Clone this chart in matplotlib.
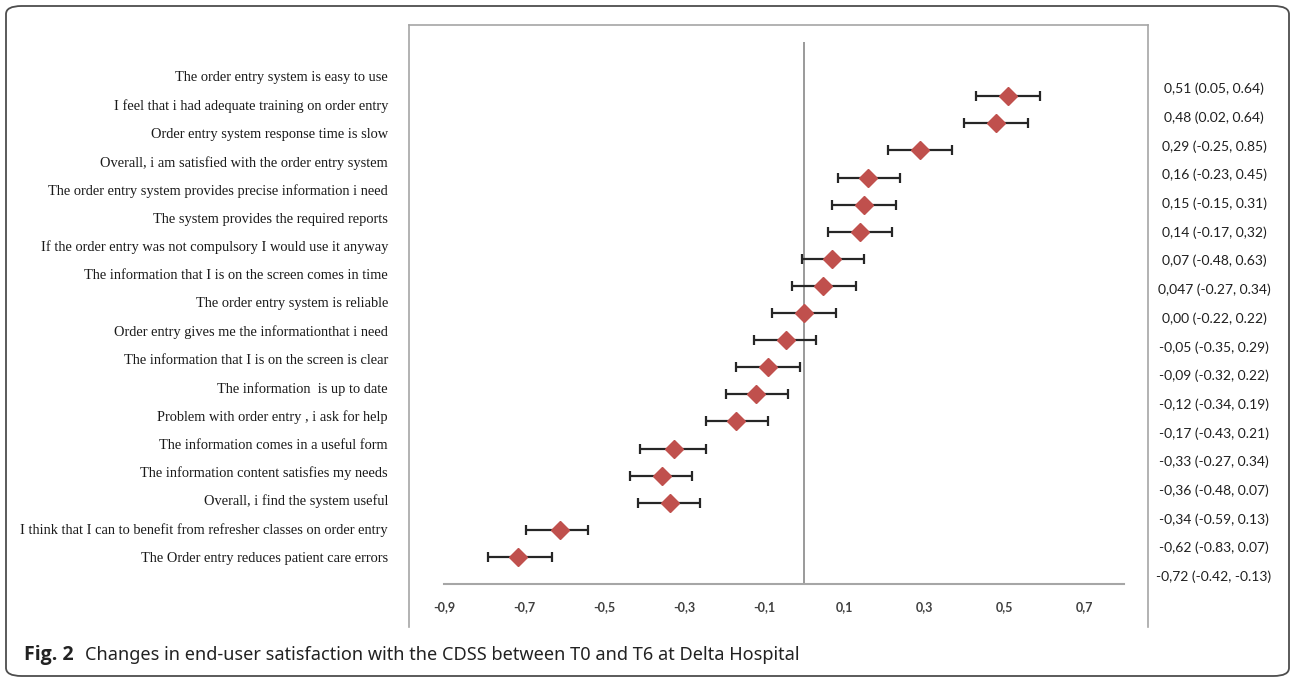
import numpy as np
import matplotlib
matplotlib.use("Agg")
import matplotlib.pyplot as plt
from matplotlib.patches import FancyBboxPatch
from matplotlib.lines import Line2D

#%% data
items = [
    "The order entry system is easy to use",
    "I feel that i had adequate training on order entry",
    "Order entry system response time is slow",
    "Overall, i am satisfied with the order entry system",
    "The order entry system provides precise information i need",
    "The system provides the required reports",
    "If the order entry was not compulsory I would use it anyway",
    "The information that I is on the screen comes in time",
    "The order entry system is reliable",
    "Order entry gives me the informationthat i need",
    "The information that I is on the screen is clear",
    "The information  is up to date",
    "Problem with order entry , i ask for help",
    "The information comes in a useful form",
    "The information content satisfies my needs",
    "Overall, i find the system useful",
    "I think that I can to benefit from refresher classes on order entry",
    "The Order entry reduces patient care errors",
]
estimate = [0.51, 0.48, 0.29, 0.16, 0.15, 0.14, 0.07, 0.047, 0.00, -0.045,
            -0.09, -0.12, -0.17, -0.325, -0.355, -0.335, -0.61, -0.715]
lower = [0.43, 0.40, 0.21, 0.085, 0.07, 0.06, -0.005, -0.03, -0.08, -0.125,
         -0.17, -0.195, -0.245, -0.41, -0.435, -0.415, -0.695, -0.79]
upper = [0.59, 0.56, 0.37, 0.24, 0.23, 0.22, 0.15, 0.13, 0.08, 0.03,
         -0.01, -0.04, -0.09, -0.245, -0.28, -0.26, -0.54, -0.63]
ci_text = [
    "0,51 (0.05, 0.64)", "0,48 (0.02, 0.64)", "0,29 (-0.25, 0.85)",
    "0,16 (-0.23, 0.45)", "0,15 (-0.15, 0.31)", "0,14 (-0.17, 0,32)",
    "0,07 (-0.48, 0.63)", "0,047 (-0.27, 0.34)", "0,00 (-0.22, 0.22)",
    "-0,05 (-0.35, 0.29)", "-0,09 (-0.32, 0.22)", "-0,12 (-0.34, 0.19)",
    "-0,17 (-0.43, 0.21)", "-0,33 (-0.27, 0.34)", "-0,36 (-0.48, 0.07)",
    "-0,34 (-0.59, 0.13)", "-0,62 (-0.83, 0.07)", "-0,72 (-0.42, -0.13)",
]
xticks = [-0.9, -0.7, -0.5, -0.3, -0.1, 0.1, 0.3, 0.5, 0.7]

#%% figure
W, H = 1292, 678
fig = plt.figure(figsize=(W / 100, H / 100), dpi=100)

def fx(px):
    return px / W

def fy(py):
    return 1 - py / H

# outer rounded frame
frame = FancyBboxPatch((fx(6), fy(676)), fx(1283), (676 - 6) / H,
                       boxstyle="round,pad=0,rounding_size=0.012",
                       transform=fig.transFigure, fill=False,
                       edgecolor="#4d4d4d", linewidth=1.3)
fig.patches.append(frame)

# inner chart box (top, left, right)
for xs, ys in [((409, 1148), (25, 25)), ((409, 409), (25, 627)),
               ((1148, 1148), (25, 627))]:
    fig.lines.append(Line2D([fx(x) for x in xs], [fy(y) for y in ys],
                            transform=fig.transFigure, color="#a6a6a6", lw=1.2))

ax = fig.add_axes([fx(444), fy(584), fx(680), (584 - 42) / H])
n = len(items)
rows = np.arange(n)
est = np.array(estimate)
err = [est - np.array(lower), np.array(upper) - est]
ax.errorbar(est, rows, xerr=err, fmt="none", ecolor="#262626",
            elinewidth=1.6, capsize=3.5, capthick=1.6, zorder=2)
ax.plot(est, rows, "D", color="#c0504d", markersize=9, zorder=3)
ax.axvline(0, color="#7f7f7f", lw=1.1, zorder=1)

ax.set_xlim(-0.9, 0.8)
ax.set_ylim(n, -2)
ax.set_yticks([])
ax.set_xticks(xticks)
ax.set_xticklabels([f"{t:.1f}".replace(".", ",") for t in xticks],
                   fontfamily="Lato", fontweight="bold", fontsize=9,
                   color="#404040")
ax.tick_params(axis="x", length=0, pad=12)
for s in ["top", "right", "left"]:
    ax.spines[s].set_visible(False)
ax.spines["bottom"].set_color("#a6a6a6")
ax.spines["bottom"].set_linewidth(1.5)
ax.patch.set_alpha(0)

# item labels on the left
for i, lab in enumerate(items):
    fig.text(fx(388), fy(78 + 28.24 * i), lab, ha="right", va="center",
             fontfamily="Liberation Serif", fontsize=10.4, color="#1a1a1a")

# estimate (CI) labels on the right
for i, lab in enumerate(ci_text):
    fig.text(fx(1214), fy(89 + 28.7 * i), lab, ha="center", va="center",
             fontfamily="Lato", fontsize=10, color="#1f1f1f")

# caption
fig.text(fx(24), fy(655), "Fig. 2", ha="left", va="center",
         fontfamily="Open Sans", fontweight="bold", fontsize=14, color="#222222")
fig.text(fx(85), fy(655),
         "Changes in end-user satisfaction with the CDSS between T0 and T6 at Delta Hospital",
         ha="left", va="center", fontfamily="Noto Sans", fontsize=13.05,
         color="#222222")

fig.savefig("out.png", dpi=100)
